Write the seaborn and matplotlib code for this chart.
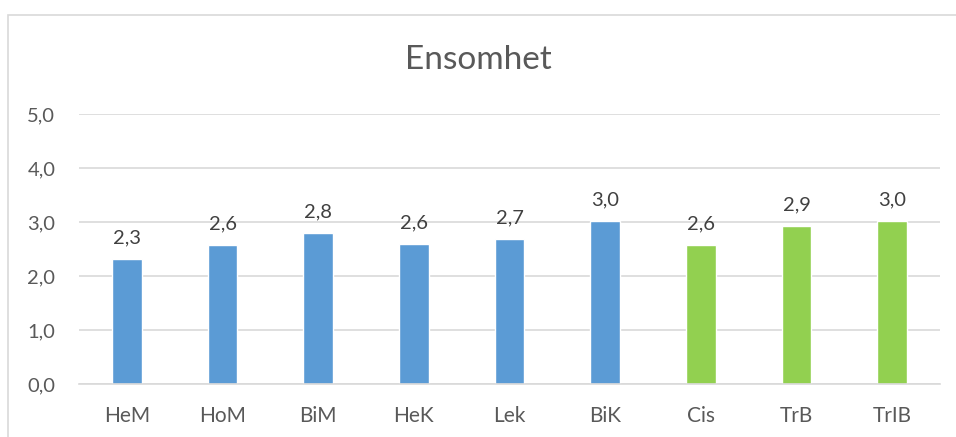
import matplotlib
matplotlib.use("Agg")
import matplotlib.pyplot as plt
import seaborn as sns
import pandas as pd
from matplotlib.patches import Rectangle

categories = ["HeM", "HoM", "BiM", "HeK", "Lek", "BiK", "Cis", "TrB", "TrIB"]
values = [2.32, 2.57, 2.80, 2.59, 2.68, 3.02, 2.57, 2.93, 3.02]
colors = ["#5B9BD5"] * 6 + ["#92D050"] * 3
yticks = [0, 1, 2, 3, 4, 5]
title = "Ensomhet"

sns.set_theme(style="white")
plt.rcParams["font.family"] = ["Lato", "DejaVu Sans"]

df = pd.DataFrame({"cat": categories, "val": values})

fig = plt.figure(figsize=(9.56, 4.37), dpi=100)
ax = fig.add_axes([79/956, 1 - 384/437, (940 - 79)/956, (384 - 114)/437])

sns.barplot(data=df, x="cat", y="val", hue="cat", palette=colors, legend=False,
            width=0.31, ax=ax, saturation=1)

ax.set_ylim(0, 5)
ax.set_xlim(-0.5, len(categories) - 0.5)
ax.set_yticks(yticks)
ax.set_yticklabels([f"{t:.1f}".replace(".", ",") for t in yticks])
ax.yaxis.grid(True, color="#D9D9D9", linewidth=1.2)
ax.set_axisbelow(True)
for s in ["top", "right", "left"]:
    ax.spines[s].set_visible(False)
ax.spines["bottom"].set_color("#D9D9D9")
ax.spines["bottom"].set_linewidth(1.2)
ax.tick_params(axis="both", length=0, labelcolor="#595959")
ax.tick_params(axis="x", pad=16, labelsize=15)
ax.tick_params(axis="y", pad=17, labelsize=14.5)
ax.set_xlabel("")
ax.set_ylabel("")

for cont in ax.containers:
    ax.bar_label(cont, labels=[f"{v:.1f}".replace(".", ",") for v in cont.datavalues],
                 padding=9, fontsize=14.5, color="#404040")

fig.text(0.5, 1 - 60/437, title, ha="center", va="center", fontsize=24, color="#595959")

fig.patches.append(Rectangle((8/956, -0.05), 1.1, 1 - 15/437 + 0.05, transform=fig.transFigure,
                             fill=False, edgecolor="#D9D9D9", linewidth=1.2))

fig.savefig("out.png", dpi=100)
